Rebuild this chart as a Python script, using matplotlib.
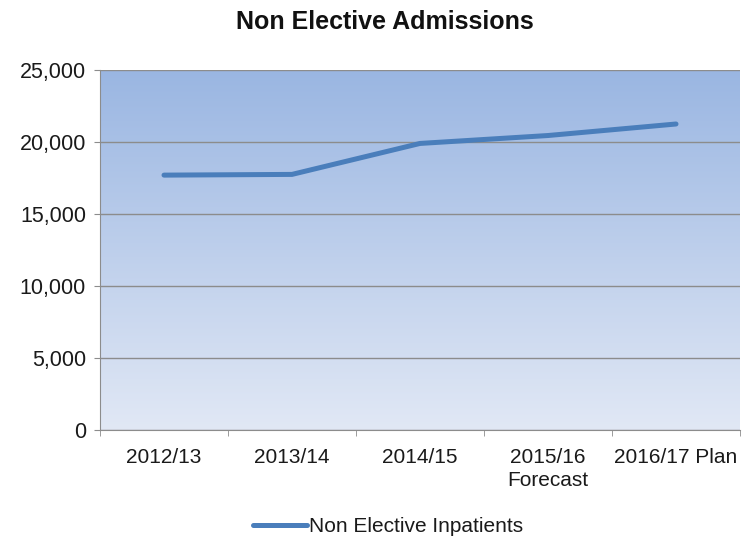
import numpy as np
import matplotlib.pyplot as plt
from matplotlib.ticker import FuncFormatter
from matplotlib.colors import LinearSegmentedColormap

plt.rcParams['font.family'] = ['Liberation Sans', 'DejaVu Sans']

categories = ["2012/13", "2013/14", "2014/15", "2015/16\nForecast", "2016/17 Plan"]
inpatients = [17700, 17750, 19900, 20450, 21250]
y_ticks = [0, 5000, 10000, 15000, 20000, 25000]

fig = plt.figure(figsize=(7.42, 5.38), dpi=100)
ax = fig.add_axes([100 / 742, 108 / 538, 640 / 742, 360 / 538])

# gradient background of the plot area
cmap = LinearSegmentedColormap.from_list("bg", ["#e1e8f5", "#9ab6e2"])
grad = np.linspace(0, 1, 256).reshape(-1, 1)
ax.imshow(grad, cmap=cmap, aspect="auto", origin="lower",
          extent=[0, 1, 0, 1], transform=ax.transAxes, zorder=0)

x = np.arange(len(categories))
ax.plot(x, inpatients, color="#4a7ebb", lw=3.6, solid_capstyle="round",
        label="Non Elective Inpatients", zorder=3)

ax.set_xlim(-0.5, len(categories) - 0.5)
ax.set_ylim(0, 25000)
ax.set_yticks(y_ticks)
ax.yaxis.set_major_formatter(FuncFormatter(lambda v, p: f"{int(v):,}"))
ax.grid(axis="y", color="#8c8c8c", lw=1, zorder=1)
ax.set_axisbelow(True)

ax.set_xticks(x)
ax.set_xticklabels(categories, fontsize=15, color="#1a1a1a", linespacing=1.25)
ax.set_xticks(np.arange(-0.5, len(categories)), minor=True)
ax.tick_params(axis="x", which="major", length=0, pad=13)
ax.tick_params(axis="x", which="minor", length=4, color="#8c8c8c", direction="out")
ax.tick_params(axis="y", length=4, color="#8c8c8c", labelsize=15.5,
               labelcolor="#1a1a1a", pad=6)

for s in ["top", "right"]:
    ax.spines[s].set_visible(False)
for s in ["left", "bottom"]:
    ax.spines[s].set_color("#8c8c8c")

fig.text(385 / 742, 1 - 22 / 538, "Non Elective Admissions", ha="center",
         va="center", fontsize=18, fontweight="bold", color="#111111")

fig.legend(loc="center", bbox_to_anchor=(388 / 742, 1 - 527 / 538),
           frameon=False, fontsize=15, handlelength=2.6, handletextpad=0.1,
           labelcolor="#1a1a1a")

fig.savefig("out.png", dpi=100)
